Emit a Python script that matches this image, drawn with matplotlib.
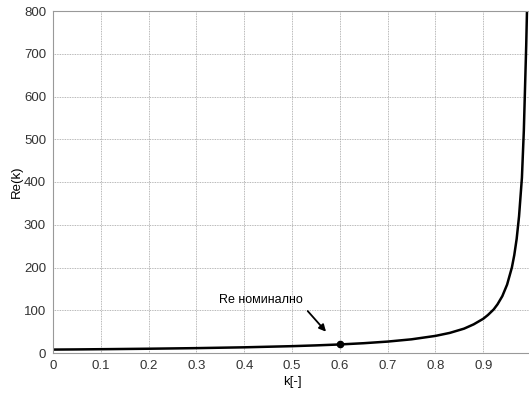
import matplotlib.pyplot as plt

# values
k_vals = [0, 0.05, 0.1, 0.12, 0.2, 0.3, 0.4, 0.5, 0.55, 0.6, 0.65, 0.7, 0.75,
          0.8, 0.83, 0.86, 0.88, 0.9, 0.91, 0.922, 0.93, 0.94, 0.95, 0.96,
          0.965, 0.97, 0.975, 0.981, 0.985, 0.9875, 0.99, 0.9915]
re_vals = [8, 8.4, 8.9, 9.1, 10, 11.4, 13.3, 16, 17.8, 20, 22.9, 26.7, 32,
           40, 47, 57, 67, 80, 89, 102, 114, 133, 160, 200,
           229, 267, 320, 410, 520, 620, 720, 795]

nom_k = 0.6
nom_re = 20
nom_label = "Re номинално"

plt.rcParams['font.family'] = ['Liberation Sans', 'DejaVu Sans']

fig = plt.figure(figsize=(5.29, 3.93), dpi=100)
ax = fig.add_axes([53 / 529, 40 / 393, 478 / 529, 342 / 393])

ax.plot(k_vals, re_vals, color='black', linewidth=1.8)
ax.plot(nom_k, nom_re, 'o', color='black', markersize=4.5)

ax.text(0.435, 124, nom_label, fontsize=9, ha='center', va='center')
ax.annotate('', xy=(0.575, 45), xytext=(0.529, 103),
            arrowprops=dict(arrowstyle='-|>', color='black', lw=1.3,
                            mutation_scale=10))

ax.set_xlim(0, 1)
ax.set_ylim(0, 800)
ax.set_xticks([0, 0.1, 0.2, 0.3, 0.4, 0.5, 0.6, 0.7, 0.8, 0.9])
ax.set_xticklabels(['0', '0.1', '0.2', '0.3', '0.4', '0.5', '0.6', '0.7', '0.8', '0.9'])
ax.set_yticks(range(0, 801, 100))
ax.grid(True, linestyle=(0, (1, 1)), color='#a0a0a0', linewidth=0.6)
ax.tick_params(labelsize=9.5, length=0, pad=5, colors='#333333')
for s in ax.spines.values():
    s.set_color('#999999')
    s.set_linewidth(0.8)

ax.set_xlabel('k[-]', fontsize=9.5, labelpad=3)
ax.set_ylabel('Re(k)', fontsize=9.5, labelpad=1)

fig.savefig('out.png', dpi=100)
